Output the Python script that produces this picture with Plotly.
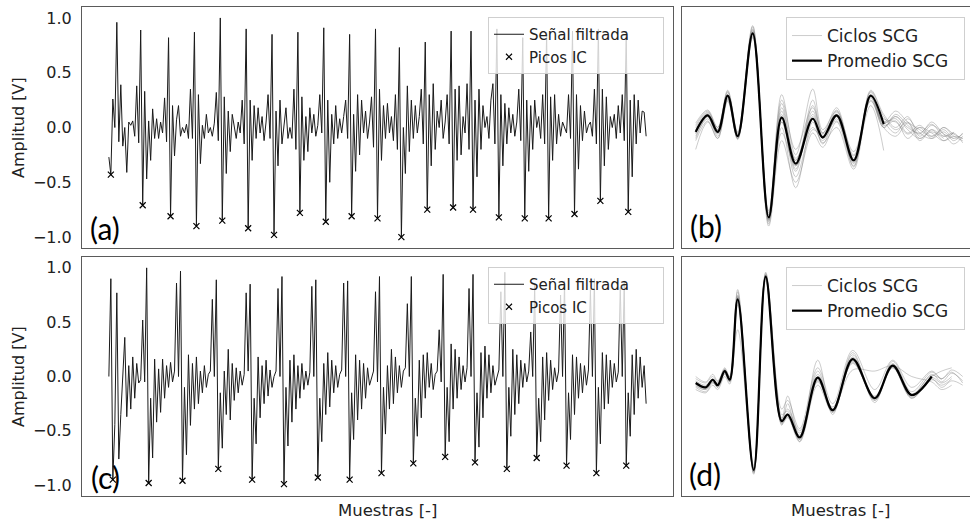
import numpy as np
import plotly.graph_objects as go

W, H = 970, 523

# ---------------- Panel (a): filtered signal ----------------
a_pre = [-0.27]
a_beats = [
    [-0.43, 0.26, 0.0, 0.96, -0.13, 0.39, -0.17, 0.0, -0.41, 0.05, 0.02, 0.06, -0.08, 0.38, -0.14, 0.89],
    [-0.71, 0.33, -0.47, 0.06, -0.30, 0.17, -0.1, 0.08, -0.1, 0.05, -0.05, 0.27, -0.13, 0.82],
    [-0.81, 0.2, -0.26, 0.07, 0.2, -0.08, 0.0, -0.05, 0.03, -0.1, 0.35, -0.1, 0.87],
    [-0.90, 0.3, -0.33, 0.02, -0.1, 0.12, -0.05, 0.0, -0.08, 0.04, 0.32, -0.12, 1.0],
    [-0.85, 0.28, -0.42, 0.15, -0.22, 0.12, 0.0, -0.1, 0.05, -0.05, 0.25, -0.15, 0.90],
    [-0.92, 0.25, -0.3, 0.2, -0.1, 0.18, -0.05, 0.1, -0.12, 0.05, 0.3, -0.1, 0.85],
    [-0.98, 0.15, -0.35, 0.25, -0.15, 0.05, 0.18, -0.1, 0.0, -0.1, 0.35, -0.2, 0.87],
    [-0.78, 0.28, -0.3, 0.1, -0.22, 0.18, -0.05, 0.12, -0.08, 0.02, 0.3, -0.05, 0.91],
    [-0.86, 0.25, -0.5, 0.12, -0.15, 0.2, -0.1, 0.08, -0.05, 0.1, 0.25, -0.1, 0.85],
    [-0.81, 0.12, -0.4, 0.3, -0.25, 0.25, -0.05, 0.15, -0.1, 0.05, 0.28, -0.18, 0.90],
    [-0.83, 0.35, -0.3, 0.2, -0.1, 0.22, -0.05, 0.1, -0.12, 0.3, -0.2, 0.73],
    [-1.0, 0.0, -0.42, 0.38, -0.22, 0.25, -0.1, 0.2, -0.05, 0.1, 0.35, -0.15, 0.78],
    [-0.75, 0.3, -0.35, 0.4, -0.2, 0.15, 0.0, 0.25, -0.1, 0.05, 0.3, -0.15, 0.88],
    [-0.73, 0.35, -0.3, 0.38, -0.25, 0.1, -0.05, 0.4, -0.2, 0.88],
    [-0.75, 0.25, -0.45, 0.35, -0.2, 0.2, 0.0, 0.1, -0.1, 0.25, 0.4, -0.15, 0.9],
    [-0.82, 0.3, -0.35, 0.22, -0.15, 0.18, -0.05, 0.12, -0.08, 0.05, 0.35, -0.12, 0.82],
    [-0.83, 0.25, -0.4, 0.2, -0.2, 0.25, 0.0, 0.1, -0.1, 0.3, -0.15, 0.87],
    [-0.83, 0.28, -0.3, 0.3, -0.15, 0.12, -0.08, 0.05, 0.0, -0.05, 0.3, -0.1, 0.88],
    [-0.79, 0.3, -0.38, 0.2, -0.12, 0.15, -0.05, 0.02, 0.05, -0.08, 0.35, -0.15, 0.9],
    [-0.67, 0.35, -0.35, 0.28, -0.2, 0.1, 0.0, 0.12, -0.1, 0.2, -0.05, 0.3, -0.12, 0.88],
    [-0.77, 0.25, -0.45, 0.3, -0.15, 0.25, -0.05, 0.15, 0.14, -0.08],
]

# ---------------- Panel (c): filtered signal ----------------
c_pre = [0.0, 0.9]
c_beats = [
    [-0.95, -0.44, 0.77, -0.76, -0.35, 0.05, 0.36, -0.37, 0.1, -0.3, 0.18, -0.2, 0.12, -0.06, -0.03, 0.52, -0.05, 1.0],
    [-0.98, -0.2, -0.75, 0.16, -0.42, 0.07, -0.33, 0.16, -0.2, 0.1, -0.1, 0.13, -0.05, 0.05, 0.86, 0.0, 0.97],
    [-0.96, -0.1, -0.72, 0.2, -0.45, 0.12, -0.3, 0.18, -0.25, 0.05, -0.15, 0.1, -0.1, 0.02, 0.05, 0.71, 0.0, 0.89],
    [-0.85, -0.15, -0.66, 0.05, -0.35, 0.25, -0.4, 0.12, -0.22, 0.08, -0.15, 0.05, -0.08, 0.02, 0.77, 0.05, 0.85],
    [-0.95, -0.2, -0.62, 0.18, -0.38, 0.1, -0.25, 0.15, -0.18, 0.06, -0.1, 0.0, 0.05, 0.81, 0.0, 0.92],
    [-0.99, -0.1, -0.64, 0.15, -0.42, 0.2, -0.3, 0.1, -0.2, 0.12, -0.12, 0.05, -0.08, 0.04, 0.83, 0.0, 0.89],
    [-0.93, -0.2, -0.6, 0.12, -0.35, 0.22, -0.28, 0.15, -0.15, 0.1, -0.1, 0.02, 0.06, 0.86, 0.0, 0.88],
    [-0.95, -0.15, -0.58, 0.2, -0.4, 0.15, -0.3, 0.12, -0.2, 0.08, -0.08, 0.0, 0.05, 0.78, -0.05, 0.92],
    [-0.89, -0.1, -0.53, 0.1, -0.3, 0.25, -0.25, 0.18, -0.15, 0.1, -0.1, 0.05, 0.08, 0.67, 0.0, 0.92],
    [-0.80, -0.2, -0.55, 0.15, -0.38, 0.2, -0.2, 0.22, -0.1, 0.12, -0.12, 0.02, 0.05, 0.43, -0.05, 0.94],
    [-0.74, -0.1, -0.6, 0.3, -0.3, 0.25, -0.2, 0.18, -0.12, 0.1, -0.05, 0.08, 0.81, 0.0, 0.94],
    [-0.79, -0.15, -0.65, 0.22, -0.38, 0.28, -0.2, 0.2, -0.15, 0.1, -0.08, 0.0, 0.06, 0.78, 0.0, 0.96],
    [-0.85, -0.1, -0.55, 0.25, -0.35, 0.2, -0.25, 0.15, -0.1, 0.12, -0.05, 0.05, 0.41, 0.0, 0.85],
    [-0.75, -0.2, -0.6, 0.18, -0.4, 0.22, -0.22, 0.15, -0.12, 0.08, -0.05, 0.05, 0.75, 0.0, 0.88],
    [-0.82, -0.15, -0.58, 0.2, -0.35, 0.18, -0.2, 0.12, -0.15, 0.1, -0.08, 0.06, 0.8, 0.0, 0.9],
    [-0.89, -0.1, -0.62, 0.22, -0.3, 0.2, -0.25, 0.15, -0.1, 0.12, -0.05, 0.04, 0.82, 0.0, 0.88],
    [-0.82, -0.15, -0.55, 0.2, -0.35, 0.25, -0.2, 0.18, -0.1, 0.1, -0.25],
]

# ---------------- Panel (b): SCG cycles (values at turning points) ----------------
b_x = [0, 12, 22, 32, 42, 57, 73, 86, 100, 117, 127, 141, 158, 175, 188,
       200, 212, 224, 236, 248, 258, 267]
b_avg = [-0.04, 0.11, -0.04, 0.29, -0.08, 0.86, -0.82, 0.09, -0.33, 0.08, -0.09, 0.11, -0.30, 0.29, 0.03]
b_cycles = [
    [-0.05, 0.12, -0.05, 0.30, -0.08, 0.88, -0.84, 0.10, -0.35, 0.10, -0.08, 0.12, -0.32, 0.30, 0.05, 0.08, -0.05, 0.02, -0.08, -0.02, -0.1, -0.06],
    [-0.2, 0.05, -0.1, 0.25, -0.1, 0.82, -0.78, 0.3, -0.25, 0.35, -0.02, 0.15, -0.25, 0.25, 0.0, 0.1, 0.0, -0.05, 0.03, -0.08, -0.05],
    [0.02, 0.15, -0.02, 0.33, -0.05, 0.92, -0.9, -0.12, -0.5, -0.05, -0.18, 0.05, -0.35, 0.33, 0.1, -0.02, 0.05, -0.1, -0.02, -0.12, -0.08, -0.1],
    [-0.08, 0.08, -0.06, 0.26, -0.1, 0.85, -0.8, 0.05, -0.4, 0.2, -0.05, 0.18, -0.28, 0.2, -0.21],
    [0.0, 0.14, 0.0, 0.32, -0.06, 0.9, -0.86, 0.18, -0.28, 0.0, -0.12, 0.08, -0.33, 0.32, 0.08, 0.05, -0.06, 0.0, -0.1, -0.04, -0.12, -0.05],
    [-0.1, 0.1, -0.08, 0.28, -0.1, 0.84, -0.82, 0.0, -0.55, 0.05, -0.15, 0.1, -0.3, 0.27, 0.0, 0.12, 0.02, -0.06, 0.05, -0.06, -0.1],
    [-0.03, 0.13, -0.03, 0.3, -0.07, 0.87, -0.83, 0.22, -0.3, 0.15, -0.1, 0.14, -0.3, 0.3, 0.06, -0.05, 0.08, -0.05, -0.1, 0.0, -0.08, -0.12],
    [-0.06, 0.1, -0.05, 0.27, -0.08, 0.86, -0.8, 0.12, -0.45, -0.02, -0.08, 0.06, -0.26, 0.28, 0.02, 0.06, -0.1, 0.0, -0.05, -0.12, -0.04],
    [0.04, 0.16, 0.0, 0.34, -0.04, 0.93, -0.88, 0.05, -0.3, 0.12, -0.1, 0.16, -0.36, 0.34, 0.12, 0.0, 0.1, -0.08, 0.02, -0.06, -0.15, -0.08],
    [-0.12, 0.06, -0.1, 0.24, -0.11, 0.83, -0.76, 0.15, -0.38, 0.25, -0.05, 0.12, -0.22, 0.24, 0.04, 0.1, -0.02, -0.1, -0.04, -0.1],
    [-0.04, 0.11, -0.04, 0.29, -0.08, 0.86, -0.84, -0.05, -0.35, 0.08, -0.14, 0.0, -0.38, 0.3, 0.0, -0.08, 0.04, -0.12, -0.02, -0.08, -0.05, -0.14],
    [-0.02, 0.12, -0.02, 0.3, -0.07, 0.89, -0.85, 0.25, -0.2, 0.18, -0.06, 0.1, -0.3, 0.29, 0.05, 0.15, 0.05, -0.02, -0.08, 0.0, -0.06, -0.1],
]

# ---------------- Panel (d): SCG cycles ----------------
d_x = [0, 10, 17, 22, 29, 34, 42, 58, 70, 86, 92, 104, 122, 137, 157, 179, 197, 216, 236,
       246, 256, 267]
d_avg = [-0.06, -0.10, -0.03, -0.08, 0.05, -0.03, 0.71, -0.86, 0.92, -0.41, -0.35, -0.56, -0.01, -0.31, 0.16, -0.20, 0.10, -0.17, 0.0]
d_cycles = [
    [-0.05, -0.1, -0.02, -0.07, 0.06, -0.02, 0.74, -0.88, 0.94, -0.42, -0.36, -0.58, 0.0, -0.32, 0.18, -0.22, 0.12, -0.18, 0.02, -0.05, 0.03, -0.04],
    [-0.1, -0.14, -0.06, -0.1, 0.02, -0.05, 0.66, -0.82, 0.88, -0.38, -0.3, -0.5, -0.05, -0.28, 0.12, -0.18, 0.08, -0.2, -0.03, -0.08, -0.02],
    [-0.02, -0.06, 0.0, -0.05, 0.08, 0.0, 0.78, -0.9, 0.96, -0.45, -0.25, -0.6, 0.15, -0.35, 0.22, -0.24, 0.14, -0.14, 0.04, -0.02, 0.06, 0.0],
    [-0.08, -0.12, -0.05, -0.09, 0.04, -0.04, 0.43, -0.84, 0.9, -0.35, -0.32, -0.52, -0.02, -0.3, 0.06, 0.05, 0.1, 0.0, -0.05, -0.12, -0.08],
    [-0.04, -0.08, -0.03, -0.06, 0.07, -0.01, 0.72, -0.87, 0.93, -0.4, -0.18, -0.55, 0.05, -0.3, 0.2, -0.2, 0.11, -0.17, 0.0, 0.05, 0.08],
    [-0.12, -0.15, -0.08, -0.12, 0.0, -0.07, 0.7, -0.85, 0.91, -0.44, -0.38, -0.6, -0.08, -0.33, 0.14, -0.22, 0.08, -0.2, -0.02, -0.1, -0.04, -0.08],
    [-0.06, -0.09, -0.04, -0.08, 0.05, -0.03, 0.8, -0.89, 0.95, -0.4, -0.34, -0.56, 0.02, -0.32, 0.17, -0.19, 0.1, -0.16, 0.01, -0.03],
    [-0.07, -0.11, -0.03, -0.08, 0.06, -0.02, 0.73, -0.86, 0.92, -0.3, -0.22, -0.48, 0.08, -0.25, 0.24, -0.12, 0.15, -0.1, 0.05, -0.02, 0.04, -0.06],
    [0.0, -0.05, 0.02, -0.04, 0.06, 0.0, 0.75, -0.88, 0.93, -0.43, -0.37, -0.58, -0.03, -0.33, 0.15, -0.21, 0.09, -0.19, -0.01, -0.06, 0.0],
    [-0.09, -0.12, -0.05, -0.1, 0.03, -0.05, 0.69, -0.84, 0.9, -0.42, -0.36, -0.54, -0.04, -0.31, 0.13, -0.2, 0.09, -0.18, 0.0],
]

y_ticks = [-1.0, -0.5, 0.0, 0.5, 1.0]
y_tick_text = ["\u22121.0", "\u22120.5", "0.0", "0.5", "1.0"]

legend_sig = ["Se\u00f1al filtrada", "Picos IC"]
legend_scg = ["Ciclos SCG", "Promedio SCG"]
panel_labels = ["(a)", "(b)", "(c)", "(d)"]

NB = "\u00a0"


def build_signal(pre, beats):
    sig = list(pre)
    pk_i = []
    for b in beats:
        off = len(sig)
        pk_i.append(off + int(np.argmin(b)))
        sig.extend(b)
    return sig, pk_i


fig = go.Figure()

LINE_C = "#1a1a1a"
CYC_C = "rgba(120,120,120,0.38)"


def add_signal(pre, beats, xa, ya, leg):
    sig, pk = build_signal(pre, beats)
    x = list(range(len(sig)))
    fig.add_trace(go.Scatter(x=x, y=sig, mode="lines", name=legend_sig[0] + NB * 6,
                             line=dict(color=LINE_C, width=1), xaxis=xa, yaxis=ya,
                             legend=leg, legendgroup=leg + "s"))
    fig.add_trace(go.Scatter(x=pk, y=[sig[i] for i in pk], mode="markers", name=legend_sig[1],
                             marker=dict(symbol="x-thin", size=6, color="black",
                                         line=dict(color="black", width=1.2)),
                             xaxis=xa, yaxis=ya, legend=leg, legendgroup=leg + "p"))
    return len(sig) - 1


def add_scg(xn, cycles, avg, xa, ya, leg):
    for k, c in enumerate(cycles):
        fig.add_trace(go.Scatter(x=xn[:len(c)], y=c, mode="lines", name=legend_scg[0],
                                 line=dict(color=CYC_C, width=1, shape="spline", smoothing=1.0),
                                 xaxis=xa, yaxis=ya, legend=leg, legendgroup=leg + "c",
                                 showlegend=(k == 0)))
    fig.add_trace(go.Scatter(x=xn[:len(avg)], y=avg, mode="lines", name=legend_scg[1] + NB * 2,
                             line=dict(color="black", width=2.2, shape="spline", smoothing=1.0),
                             xaxis=xa, yaxis=ya, legend=leg, legendgroup=leg + "a"))


na = add_signal(a_pre, a_beats, "x", "y", "legend")
add_scg(b_x, b_cycles, b_avg, "x2", "y2", "legend2")
nc = add_signal(c_pre, c_beats, "x3", "y3", "legend3")
add_scg(d_x, d_cycles, d_avg, "x4", "y4", "legend4")


def px(v):
    return v / W


def py(v):
    return 1 - v / H


FRAME = "#5a5a5a"
TICKF = dict(family="DejaVu Sans", size=16, color="#222")


def xax(domain, rng, anchor):
    return dict(domain=domain, range=rng, anchor=anchor, showgrid=False, zeroline=False,
                showline=True, mirror=True, linecolor=FRAME, linewidth=1,
                showticklabels=False, ticks="")


def yax(domain, anchor, labels):
    d = dict(domain=domain, range=[-1.1, 1.1], anchor=anchor, showgrid=False, zeroline=False,
             showline=True, mirror=True, linecolor=FRAME, linewidth=1)
    if labels:
        d.update(tickmode="array", tickvals=y_ticks, ticktext=y_tick_text, tickfont=TICKF,
                 ticks="outside", ticklen=6, tickcolor="rgba(0,0,0,0)")
    else:
        d.update(showticklabels=False, ticks="")
    return d


left_dom = [px(82), px(673)]
right_dom = [px(682), 1.0]
top_dom = [py(248), py(7)]
bot_dom = [py(496), py(257)]

leg_common = dict(bgcolor="rgba(255,255,255,0.8)", bordercolor="#cfcfcf", borderwidth=1,
                  xanchor="left", yanchor="top", tracegroupgap=0)
F15 = dict(size=15, family="DejaVu Sans", color="#222")
F17 = dict(size=17, family="DejaVu Sans", color="#222")

fig.update_layout(
    width=W, height=H, margin=dict(l=0, r=0, t=0, b=0),
    paper_bgcolor="white", plot_bgcolor="white",
    font=dict(family="DejaVu Sans", color="#222"),
    xaxis=xax(left_dom, [-0.05 * na, 1.05 * na], "y"),
    yaxis=yax(top_dom, "x", True),
    xaxis2=xax(right_dom, [-13.7, 274.3], "y2"),
    yaxis2=yax(top_dom, "x2", False),
    xaxis3=xax(left_dom, [-0.05 * nc, 1.05 * nc], "y3"),
    yaxis3=yax(bot_dom, "x3", True),
    xaxis4=xax(right_dom, [-13.7, 274.3], "y4"),
    yaxis4=yax(bot_dom, "x4", False),
    legend=dict(x=px(488), y=py(17), font=F15, **leg_common),
    legend2=dict(x=px(786), y=py(17), font=F17, **leg_common),
    legend3=dict(x=px(488), y=py(267), font=F15, **leg_common),
    legend4=dict(x=px(786), y=py(267), font=F17, **leg_common),
    showlegend=True,
)

ann = []
for lab, (cx, cy) in zip(panel_labels, [(105, 228), (706, 226), (105, 477), (705, 474)]):
    ann.append(dict(text=lab, x=px(cx), y=py(cy), xref="paper", yref="paper", showarrow=False,
                    xanchor="center", yanchor="middle",
                    font=dict(family="Lato", size=30, color="black")))
for cy in (128, 377):
    ann.append(dict(text="Amplitud [V]", x=px(18), y=py(cy), xref="paper", yref="paper",
                    showarrow=False, textangle=-90, xanchor="center", yanchor="middle",
                    font=dict(family="DejaVu Sans", size=16, color="#222")))
for cx in (387, 840):
    ann.append(dict(text="Muestras [-]", x=px(cx), y=py(510), xref="paper", yref="paper",
                    showarrow=False, xanchor="center", yanchor="middle",
                    font=dict(family="DejaVu Sans", size=16.5, color="#222")))
fig.update_layout(annotations=ann)

fig.write_html("out.html")
